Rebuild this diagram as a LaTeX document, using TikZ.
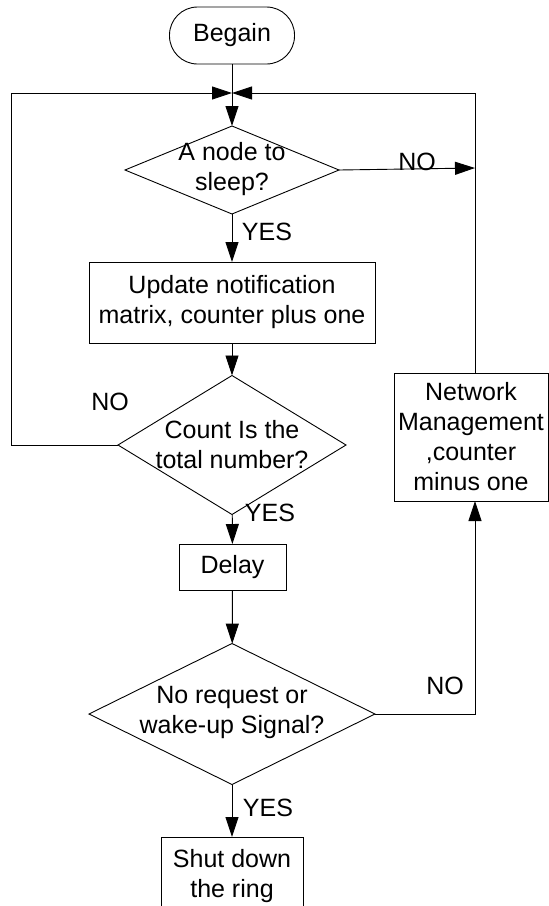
\documentclass[tikz,border=0pt]{standalone}
\usepackage{fontspec}
\setmainfont{Liberation Sans}
\usetikzlibrary{arrows.meta,shapes.geometric}
\tikzset{
  ln/.style={line width=0.9pt, draw=black},
  arr/.style={ln, -{Triangle[length=20pt,width=13pt]}},
  box/.style={ln, rectangle, inner sep=0pt, outer sep=0pt, align=center},
  term/.style={box, rounded corners=28pt},
  dec/.style={ln, diamond, inner sep=0pt, outer sep=0pt},
  txt/.style={inner sep=0pt, align=center},
  lbl/.style={inner sep=0pt}
}
\begin{document}
\begin{tikzpicture}[x=1pt,y=-1pt,font=\fontsize{25}{30}\selectfont]
\useasboundingbox (0,0) rectangle (549,906);
\clip (0,0) rectangle (549,906);
% shapes
\node[term, minimum width=125pt, minimum height=57pt] (begin) at (232,35.5) {Begain};
\node[dec, minimum width=214pt, minimum height=88pt] (d1) at (232,170) {};
\node[txt] (t1) at (232,169) {A node to\\sleep?};
\node[box, minimum width=286pt, minimum height=81pt] (upd) at (232,302.5) {Update notification\\matrix, counter plus one};
\node[dec, minimum width=228pt, minimum height=139pt] (d2) at (232,445) {};
\node[txt] (t2) at (232,445) {Count Is the\\total number?};
\node[box, minimum width=107pt, minimum height=46pt] (delay) at (232.5,567) {Delay};
\node[dec, minimum width=286pt, minimum height=141pt] (d3) at (232,714) {};
\node[txt] (t3) at (232,712) {No request or\\wake-up Signal?};
\node[box, minimum width=142pt, minimum height=78pt] (shut) at (232,876) {Shut down\\the ring};
\node[box, minimum width=154pt, minimum height=128pt] (nm) at (471,437) {Network\\Management\\,counter\\minus one};
% junction coordinates
\coordinate (j) at (232,93);
\coordinate (lt) at (11,93);
\coordinate (lb) at (11,445);
\coordinate (rt) at (475,93);
\coordinate (rno) at (475,168);
\coordinate (rb) at (475,714);
% connectors
\draw[arr] (begin) -- (d1);
\draw[arr] (d1) -- (upd);
\draw[arr] (upd) -- (d2);
\draw[arr] (d2) -- (delay);
\draw[arr] (delay) -- (d3);
\draw[arr] (d3) -- (shut);
\draw[arr] (d2.west) -- (lb) -- (lt) -- (j);
\draw[arr] (rt |- nm.north) -- (rt) -- (j);
\draw[arr] (d1.east) -- (rno);
\draw[arr] (d3.east) -- (rb) -- (rb |- nm.south);
% labels
\node[lbl] (no1) at (417,162) {NO};
\node[lbl] (yes1) at (267,232) {YES};
\node[lbl] (no2) at (110,402) {NO};
\node[lbl] (yes2) at (270,513) {YES};
\node[lbl] (no3) at (445,686) {NO};
\node[lbl] (yes3) at (268,808) {YES};
\end{tikzpicture}
\end{document}
